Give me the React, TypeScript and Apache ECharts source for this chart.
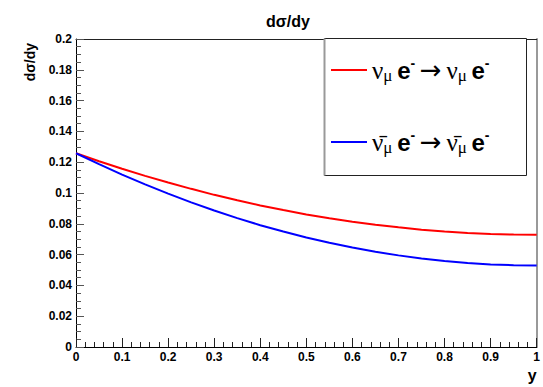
import React, { useEffect, useRef } from "react";
import * as echarts from "echarts";

// inelasticity y sampled every 0.05
const yPoints = [0, 0.05, 0.1, 0.15, 0.2, 0.25, 0.3, 0.35, 0.4, 0.45, 0.5, 0.55, 0.6, 0.65, 0.7, 0.75, 0.8, 0.85, 0.9, 0.95, 1];
// dσ/dy for ν_μ e⁻ → ν_μ e⁻ (red)
const numuValues = [0.1258, 0.1206, 0.1157, 0.1111, 0.1068, 0.1027, 0.0988, 0.0953, 0.0919, 0.0889, 0.0861, 0.0836, 0.0814, 0.0794, 0.0777, 0.0762, 0.075, 0.0741, 0.0734, 0.073, 0.0729];
// dσ/dy for ν̄_μ e⁻ → ν̄_μ e⁻ (blue)
const numubarValues = [0.1258, 0.1187, 0.1119, 0.1056, 0.0996, 0.0939, 0.0886, 0.0837, 0.0791, 0.075, 0.0711, 0.0677, 0.0646, 0.0618, 0.0595, 0.0575, 0.0558, 0.0545, 0.0536, 0.0531, 0.0529];

const seriesNames = ["νμ e- → νμ e-", "ν̄μ e- → ν̄μ e-"];
const legendRich = [
  "{nu|ν}{sub|μ}{sp| }{e|e}{sup|-}{sp| }{arr|→}{sp| }{nu|ν}{sub|μ}{sp| }{e|e}{sup|-}",
  "{nu|ν̄}{sub|μ}{sp| }{e|e}{sup|-}{sp| }{arr|→}{sp| }{nu|ν̄}{sub|μ}{sp| }{e|e}{sup|-}",
];
const xTickInterval = 0.1;
const yTickInterval = 0.02;

const SANS = "'Liberation Sans', Arial, Helvetica, sans-serif";
const SERIF = "'Liberation Serif', 'Times New Roman', serif";

export default function App() {
  const ref = useRef<HTMLDivElement>(null);
  useEffect(() => {
    if (!ref.current) return;
    const chart = echarts.init(ref.current, null, { renderer: "svg" });
    const labelStyle = { fontFamily: SANS, fontWeight: "bold" as const, fontSize: 12, color: "#000" };
    chart.setOption({
      animation: false,
      backgroundColor: "#fff",
      title: {
        text: "dσ/dy",
        left: 283,
        top: 8,
        textAlign: "center",
        textStyle: { fontFamily: SANS, fontWeight: "bold", fontSize: 16, color: "#000" },
      },
      grid: { left: 76, right: 6, top: 39, bottom: 40, containLabel: false },
      legend: {
        orient: "vertical",
        left: 331,
        top: 56,
        padding: 0,
        itemGap: 44,
        itemWidth: 36,
        itemHeight: 2,
        icon: "rect",
        selectedMode: false,
        data: seriesNames,
        formatter: (name: string) => legendRich[seriesNames.indexOf(name)],
        textStyle: {
          color: "#000",
          rich: {
            nu: { fontFamily: SERIF, fontSize: 25, lineHeight: 28, color: "#000" },
            sub: { fontFamily: SERIF, fontSize: 17, lineHeight: 14, verticalAlign: "bottom", color: "#000" },
            e: { fontFamily: SANS, fontWeight: "bold", fontSize: 24, lineHeight: 28, color: "#000" },
            sup: { fontFamily: SANS, fontWeight: "bold", fontSize: 14, lineHeight: 16, verticalAlign: "top", color: "#000" },
            arr: { fontFamily: "'DejaVu Sans', sans-serif", fontSize: 26, lineHeight: 28, color: "#000" },
            sp: { fontFamily: SANS, fontSize: 17, lineHeight: 28 },
          },
        },
      },
      graphic: [
        {
          type: "rect",
          z: 1,
          shape: { x: 324.5, y: 38.5, width: 202, height: 137 },
          style: { fill: "#fff", stroke: "#222", lineWidth: 1 },
        },
        {
          type: "line",
          z: 2,
          shape: { x1: 324.5, y1: 38.5, x2: 324.5, y2: 175.5 },
          style: { stroke: "#999", lineWidth: 2 },
        },
      ],
      xAxis: [
        {
          type: "value",
          min: 0,
          max: 1,
          interval: xTickInterval,
          name: "y",
          nameLocation: "end",
          nameGap: 0,
          nameTextStyle: {
            fontFamily: SANS,
            fontWeight: "bold",
            fontSize: 16,
            color: "#000",
            align: "right",
            verticalAlign: "top",
            padding: [20, 0, 0, 0],
          },
          axisLine: { show: true, onZero: false, lineStyle: { color: "#000", width: 1 } },
          axisTick: { show: true, inside: true, length: 9, lineStyle: { color: "#222" } },
          minorTick: { show: true, splitNumber: 5, length: 5, lineStyle: { color: "#222" } },
          splitLine: { show: false },
          axisLabel: { ...labelStyle, margin: 4, formatter: (v: number) => String(+v.toFixed(2)) },
        },
        {
          type: "value",
          position: "top",
          min: 0,
          max: 1,
          interval: xTickInterval,
          axisLine: { show: true, onZero: false, lineStyle: { color: "#222", width: 1 } },
          axisTick: { show: false },
          axisLabel: { show: false },
          splitLine: { show: false },
        },
      ],
      yAxis: [
        {
          type: "value",
          min: 0,
          max: 0.2,
          interval: yTickInterval,
          name: "dσ/dy",
          nameLocation: "end",
          nameRotate: 90,
          nameGap: -4,
          nameTextStyle: {
            fontFamily: SANS,
            fontWeight: "bold",
            fontSize: 14,
            color: "#000",
            align: "right",
            verticalAlign: "bottom",
            padding: [0, 0, 39, 0],
          },
          axisLine: { show: true, onZero: false, lineStyle: { color: "#000", width: 1 } },
          axisTick: { show: true, inside: true, length: 8, lineStyle: { color: "#555" } },
          minorTick: { show: true, splitNumber: 4, length: 5, lineStyle: { color: "#555" } },
          splitLine: { show: false },
          axisLabel: { ...labelStyle, margin: 4, formatter: (v: number) => String(+v.toFixed(3)) },
        },
        {
          type: "value",
          position: "right",
          min: 0,
          max: 0.2,
          interval: yTickInterval,
          axisLine: { show: true, onZero: false, lineStyle: { color: "#999", width: 2 } },
          axisTick: { show: false },
          axisLabel: { show: false },
          splitLine: { show: false },
        },
      ],
      series: [
        {
          name: seriesNames[0],
          type: "line",
          xAxisIndex: 0,
          yAxisIndex: 0,
          data: yPoints.map((x, i) => [x, numuValues[i]]),
          symbol: "none",
          lineStyle: { color: "#ff0000", width: 2 },
          itemStyle: { color: "#ff0000" },
          z: 3,
        },
        {
          name: seriesNames[1],
          type: "line",
          xAxisIndex: 0,
          yAxisIndex: 0,
          data: yPoints.map((x, i) => [x, numubarValues[i]]),
          symbol: "none",
          lineStyle: { color: "#0000ff", width: 2 },
          itemStyle: { color: "#0000ff" },
          z: 3,
        },
      ],
    });
    return () => chart.dispose();
  }, []);
  return <div ref={ref} style={{ position: "fixed", left: 0, top: 0, width: 543, height: 387 }} />;
}
